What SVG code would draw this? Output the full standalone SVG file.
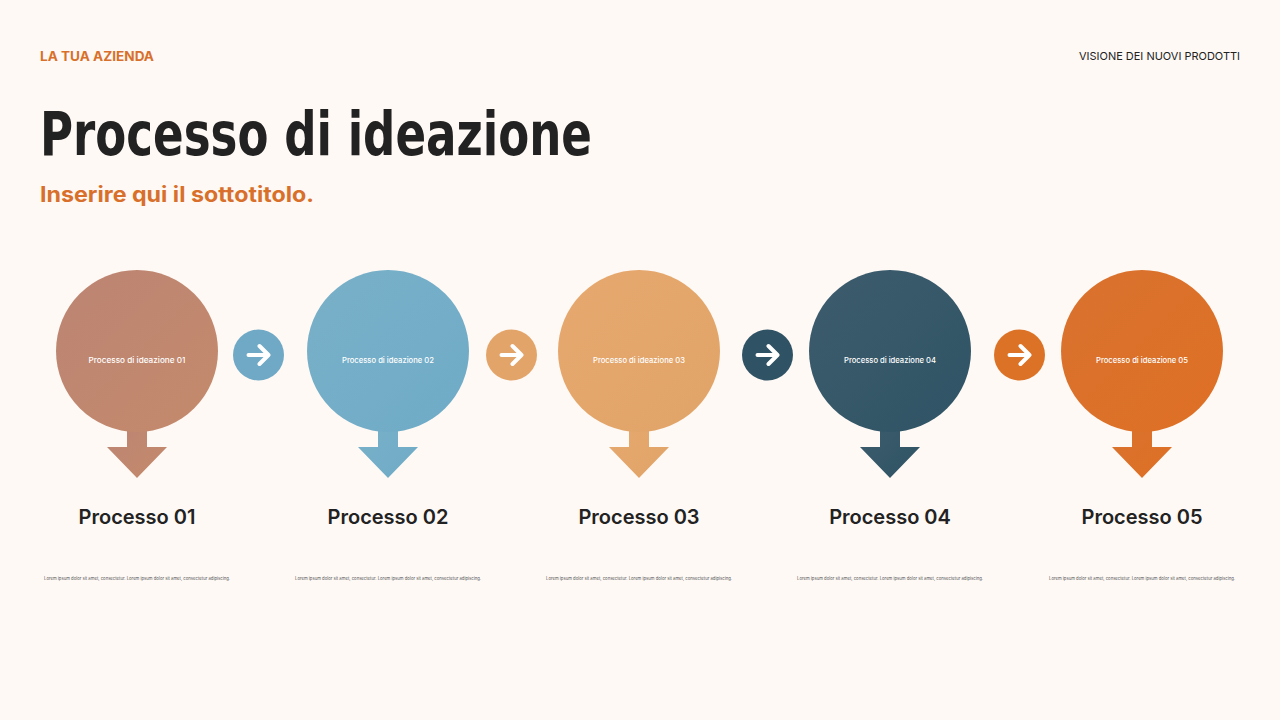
<svg xmlns="http://www.w3.org/2000/svg" width="1280" height="720" viewBox="0 0 1280 720">
<defs>
<style>
.company{font-family:"Inter","Noto Sans",sans-serif;font-weight:700;font-size:13px;fill:#D8702B}
.vis{font-family:"Inter","Noto Sans",sans-serif;font-size:11px;fill:#222}
.title{font-family:"DejaVu Sans Condensed","DejaVu Sans",sans-serif;font-weight:700;font-size:60px;fill:#222}
.sub{font-family:"Inter","Noto Sans",sans-serif;font-weight:700;font-size:21px;fill:#D8702B}
.inner{font-family:"Inter","Noto Sans",sans-serif;font-weight:500;font-size:7.5px;fill:#fff;text-anchor:middle}
.lbl{font-family:"Inter","Noto Sans",sans-serif;font-weight:600;font-size:20px;fill:#222;text-anchor:middle}
.lorem{font-family:"Inter","Noto Sans",sans-serif;font-size:4.6px;fill:#555;text-anchor:middle}
.ico{fill:none;stroke:#fff;stroke-width:4;stroke-linecap:round;stroke-linejoin:round}
</style>
<linearGradient id="g1" x1="0" y1="0" x2="1" y2="1"><stop offset="0" stop-color="#BC8573"/><stop offset="1" stop-color="#C48A6C"/></linearGradient>
<linearGradient id="g2" x1="0" y1="0" x2="1" y2="1"><stop offset="0" stop-color="#79B0C8"/><stop offset="1" stop-color="#6FABC7"/></linearGradient>
<linearGradient id="g3" x1="0" y1="0" x2="1" y2="1"><stop offset="0" stop-color="#E6A86E"/><stop offset="1" stop-color="#E1A468"/></linearGradient>
<linearGradient id="g4" x1="0" y1="0" x2="1" y2="1"><stop offset="0" stop-color="#3D5C6D"/><stop offset="1" stop-color="#2F5465"/></linearGradient>
<linearGradient id="g5" x1="0" y1="0" x2="1" y2="1"><stop offset="0" stop-color="#D9722F"/><stop offset="1" stop-color="#DE7024"/></linearGradient>
<path id="pin" d="M-10,70 L-10,96 L-30,96 L0,127 L30,96 L10,96 L10,70 Z"/>
<path id="ar" d="M-10,0 H9 M1,-9 L10,0 L1,9"/>
</defs>
<rect width="1280" height="720" fill="#FEF9F5"/>

<text class="company" x="40" y="61" textLength="114" lengthAdjust="spacingAndGlyphs">LA TUA AZIENDA</text>
<text class="vis" x="1240" y="60" text-anchor="end" textLength="161" lengthAdjust="spacingAndGlyphs">VISIONE DEI NUOVI PRODOTTI</text>
<text class="title" x="40" y="155" textLength="552" lengthAdjust="spacingAndGlyphs">Processo di ideazione</text>
<text class="sub" x="40" y="202" textLength="274" lengthAdjust="spacingAndGlyphs">Inserire qui il sottotitolo.</text>

<g id="node1" transform="translate(137,351)">
<use href="#pin" fill="url(#g1)"/>
<circle r="81" fill="url(#g1)"/>
<text class="inner" y="11.5" textLength="97" lengthAdjust="spacingAndGlyphs">Processo di ideazione 01</text>
<text class="lbl" y="173">Processo 01</text>
<text class="lorem" y="229" textLength="186" lengthAdjust="spacingAndGlyphs">Lorem ipsum dolor sit amet, consectetur. Lorem ipsum dolor sit amet, consectetur adipiscing.</text>
</g>
<g id="node2" transform="translate(388,351)">
<use href="#pin" fill="url(#g2)"/>
<circle r="81" fill="url(#g2)"/>
<text class="inner" y="11.5" textLength="92" lengthAdjust="spacingAndGlyphs">Processo di ideazione 02</text>
<text class="lbl" y="173">Processo 02</text>
<text class="lorem" y="229" textLength="186" lengthAdjust="spacingAndGlyphs">Lorem ipsum dolor sit amet, consectetur. Lorem ipsum dolor sit amet, consectetur adipiscing.</text>
</g>
<g id="node3" transform="translate(639,351)">
<use href="#pin" fill="url(#g3)"/>
<circle r="81" fill="url(#g3)"/>
<text class="inner" y="11.5" textLength="92" lengthAdjust="spacingAndGlyphs">Processo di ideazione 03</text>
<text class="lbl" y="173">Processo 03</text>
<text class="lorem" y="229" textLength="186" lengthAdjust="spacingAndGlyphs">Lorem ipsum dolor sit amet, consectetur. Lorem ipsum dolor sit amet, consectetur adipiscing.</text>
</g>
<g id="node4" transform="translate(890,351)">
<use href="#pin" fill="url(#g4)"/>
<circle r="81" fill="url(#g4)"/>
<text class="inner" y="11.5" textLength="92" lengthAdjust="spacingAndGlyphs">Processo di ideazione 04</text>
<text class="lbl" y="173">Processo 04</text>
<text class="lorem" y="229" textLength="186" lengthAdjust="spacingAndGlyphs">Lorem ipsum dolor sit amet, consectetur. Lorem ipsum dolor sit amet, consectetur adipiscing.</text>
</g>
<g id="node5" transform="translate(1142,351)">
<use href="#pin" fill="url(#g5)"/>
<circle r="81" fill="url(#g5)"/>
<text class="inner" y="11.5" textLength="92" lengthAdjust="spacingAndGlyphs">Processo di ideazione 05</text>
<text class="lbl" y="173">Processo 05</text>
<text class="lorem" y="229" textLength="186" lengthAdjust="spacingAndGlyphs">Lorem ipsum dolor sit amet, consectetur. Lorem ipsum dolor sit amet, consectetur adipiscing.</text>
</g>

<g id="connectors">
<g transform="translate(258.5,355)"><circle r="25.5" fill="#6FA9C5"/><use href="#ar" class="ico"/></g>
<g transform="translate(511.5,355)"><circle r="25.5" fill="#E3A469"/><use href="#ar" class="ico"/></g>
<g transform="translate(767.5,355)"><circle r="25.5" fill="#2F5364"/><use href="#ar" class="ico"/></g>
<g transform="translate(1019.5,355)"><circle r="25.5" fill="#DC7226"/><use href="#ar" class="ico"/></g>
</g>
</svg>
